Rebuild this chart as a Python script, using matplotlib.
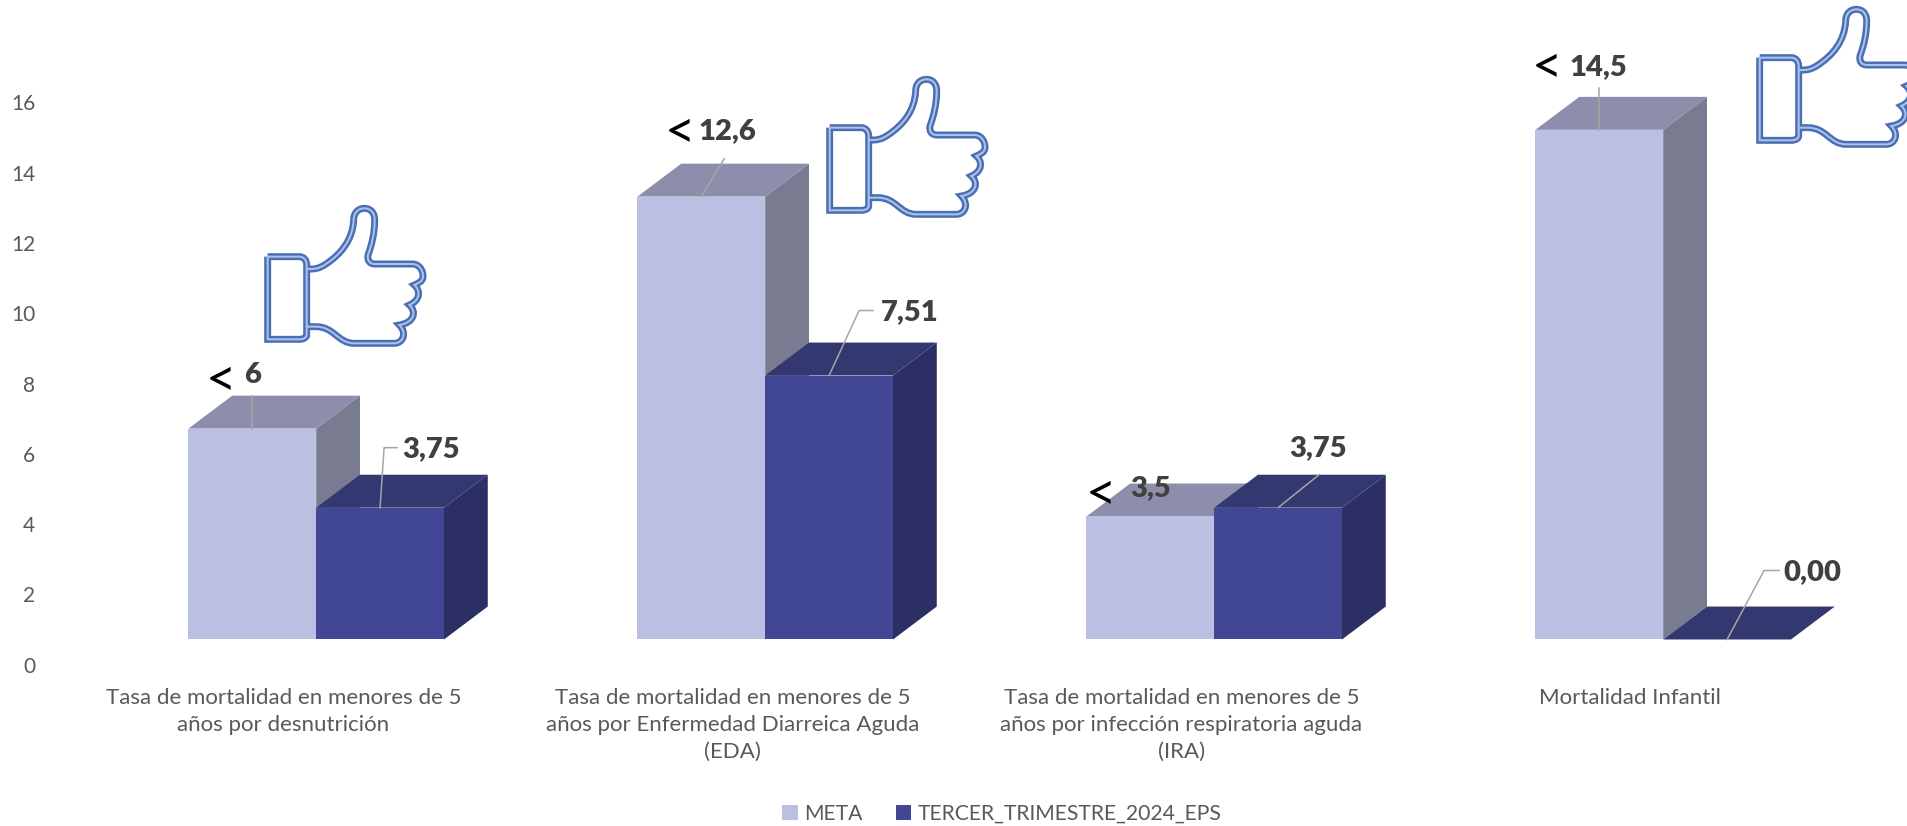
import matplotlib.pyplot as plt
from matplotlib.patches import PathPatch, Patch
from matplotlib.path import Path
from matplotlib.transforms import Affine2D

# Data
categorias = ['Tasa de mortalidad en menores de 5\naños por desnutrición',
              'Tasa de mortalidad en menores de 5\naños por Enfermedad Diarreica Aguda\n(EDA)',
              'Tasa de mortalidad en menores de 5\naños por infección respiratoria aguda\n(IRA)',
              'Mortalidad Infantil']
meta = [6, 12.6, 3.5, 14.5]
tercer = [3.75, 7.51, 3.75, 0.00]
meta_labels = ['6', '12,6', '3,5', '14,5']
tercer_labels = ['3,75', '7,51', '3,75', '0,00']
yticks = [0, 2, 4, 6, 8, 10, 12, 14, 16]

# colours: front, top, side
c_meta = ['#BBBFE1', '#8D8EAB', '#797B90']
c_tercer = ['#414795', '#333870', '#2C2F63']
c_text = '#404040'
c_tick = '#595959'
c_leader = '#A6A6A6'

plt.rcParams['font.family'] = ['Lato', 'DejaVu Sans']

W, H = 1908, 826
px_y = 35.15      # pixels per y unit
px_x = 449.0      # pixels per category
y0_px = 664.8     # pixel row of value 0
x0_px = 316.2     # pixel column of first category
left_px = 40

fig = plt.figure(figsize=(W / 100, H / 100), dpi=100)
ax = fig.add_axes([left_px / W, (H - y0_px) / H, (W - left_px) / W, y0_px / H])
ax.set_xlim((left_px - x0_px) / px_x, (W - x0_px) / px_x)
ax.set_ylim(0, y0_px / px_y)
for s in ax.spines.values():
    s.set_visible(False)

width = 105 / 369
floor = 0.72       # front face starts above the axis zero
dx = 36 / 369
dy = 0.9375


def bar3d(x, value, colors):
    # x = left edge of the front face
    top = floor + value
    ax.fill([x + width, x + width + dx, x + width + dx, x + width],
            [floor, floor + dy, top + dy, top], color=colors[2], lw=0, zorder=2)
    ax.fill([x, x + dx, x + width + dx, x + width],
            [top, top + dy, top + dy, top], color=colors[1], lw=0, zorder=2)
    ax.bar(x, value, width, bottom=floor, align='edge', color=colors[0], lw=0, zorder=2)


for i in range(len(categorias)):
    bar3d(i - width, meta[i], c_meta)
for i in range(len(categorias)):
    bar3d(i, tercer[i], c_tercer)


# label offsets in pixels from the middle of the bar's front top edge
meta_off = [(0, 54), (26, 65), (0, 28), (-1, 63)]
tercer_off = [(51, 59), (81, 63), (40, 60), (85, 67)]
less_off = [(-31, 47), (-21, 63), (-49, 21), (-52, 61)]
meta_lead = [[(0, 33)], [(23, 38)], [], [(0, 42)]]
tercer_lead = [[(4, 60), (17, 60)], [(30, 65), (44, 65)], [(41, 33)], [(37, 69), (52, 69)]]


def leader(x, y, pts):
    if not pts:
        return
    base = ax.transData.transform((x, y))
    xs = [base[0]] + [base[0] + p[0] for p in pts]
    ys = [base[1]] + [base[1] + p[1] for p in pts]
    ax.plot(xs, ys, color=c_leader, lw=1.1, transform=None, zorder=3)


for i in range(len(categorias)):
    xm = i - width / 2
    ym = floor + meta[i]
    leader(xm, ym, meta_lead[i])
    ax.annotate(meta_labels[i], (xm, ym), xytext=meta_off[i], textcoords='offset pixels',
                ha='center', va='center', fontsize=21, fontweight=800, color=c_text, zorder=5)
    ax.annotate('<', (xm, ym), xytext=less_off[i], textcoords='offset pixels',
                ha='center', va='center', fontsize=38, fontweight=400, color='black', zorder=5)
    xt = i + width / 2
    yt = floor + tercer[i]
    leader(xt, yt, tercer_lead[i])
    ax.annotate(tercer_labels[i], (xt, yt), xytext=tercer_off[i], textcoords='offset pixels',
                ha='center', va='center', fontsize=21, fontweight=800, color=c_text, zorder=5)

# axes text
ax.set_yticks(yticks)
ax.set_yticklabels([str(v) for v in yticks], fontsize=15, color=c_tick)
ax.tick_params(axis='y', length=0, pad=3.5)
ax.set_xticks([i - 27 / 369 for i in range(len(categorias))])
ax.set_xticklabels(categorias, fontsize=16, color=c_tick, linespacing=1.42)
ax.tick_params(axis='x', length=0, pad=17)

# thumbs, outline traced in pixels of a 3x crop
M, L, C = Path.MOVETO, Path.LINETO, Path.CURVE4
hand = [
    (M, (350, 200)), (L, (445, 200)), (C, (458, 200)), (C, (467, 210)), (C, (467, 225)),
    (L, (467, 435)), (C, (467, 442)), (C, (458, 448)), (C, (445, 448)), (L, (350, 448)), (L, (350, 200)),
    (M, (470, 237)), (C, (490, 238)), (C, (505, 236)), (C, (525, 222)),
    (C, (570, 192)), (C, (605, 150)), (C, (608, 90)),
    (C, (608, 68)), (C, (622, 55)), (C, (640, 55)),
    (C, (660, 55)), (C, (672, 70)), (C, (671, 92)),
    (C, (671, 130)), (C, (662, 165)), (C, (651, 195)),
    (C, (648, 210)), (C, (655, 222)), (C, (672, 222)),
    (L, (785, 222)), (C, (803, 222)), (C, (817, 240)), (C, (816, 260)),
    (C, (815, 276)), (C, (800, 280)), (C, (790, 285)),
    (C, (808, 300)), (C, (810, 330)), (C, (775, 345)),
    (C, (798, 365)), (C, (790, 398)), (C, (745, 405)),
    (C, (770, 430)), (C, (755, 460)), (C, (730, 460)),
    (L, (610, 460)), (C, (560, 460)), (C, (550, 410)), (C, (495, 410)),
    (L, (470, 410)),
]
hand_path = Path([p for c, p in hand], [c for c, p in hand])
# top-left shift of each thumb in reference pixels
thumbs = [(151, 190), (713, 61), (1643, -9)]
for tx, ty in thumbs:
    tr = Affine2D().scale(1 / 3, -1 / 3).translate(tx, H - ty)
    ax.add_patch(PathPatch(hand_path, fc='none', ec='#4A6DB5', lw=5, transform=tr, zorder=6, clip_on=False))
    ax.add_patch(PathPatch(hand_path, fc='none', ec='#A9C3E6', lw=1.5, transform=tr, zorder=7, clip_on=False))

handles = [Patch(color=c_meta[0], lw=0, label='META'),
           Patch(color=c_tercer[0], lw=0, label='TERCER_TRIMESTRE_2024_EPS')]
fig.legend(handles=handles, loc='center', bbox_to_anchor=(1002 / W, 1 - 814 / H), ncol=2, frameon=False,
           prop={'size': 15.2}, labelcolor=c_tick, handlelength=0.72, handleheight=0.72,
           handletextpad=0.3, columnspacing=1.6)

fig.savefig('out.png', dpi=100)
